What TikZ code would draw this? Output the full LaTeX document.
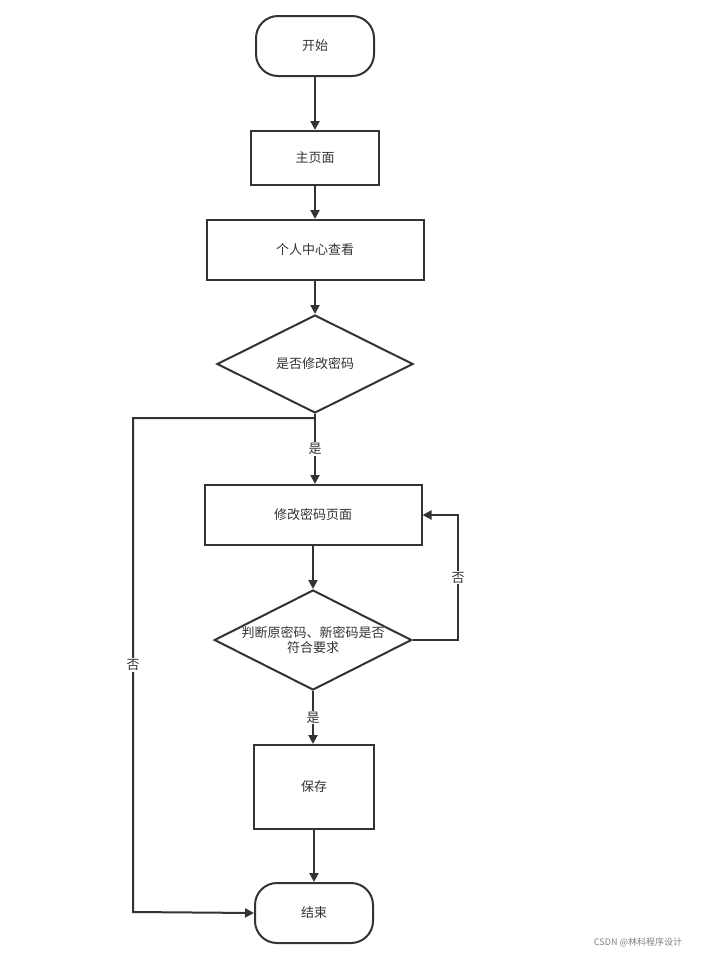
\documentclass[tikz,border=0pt]{standalone}
\usepackage{fontspec}
\setmainfont{Noto Sans CJK SC}
\usetikzlibrary{shapes.geometric,arrows.meta}
\definecolor{ln}{HTML}{333333}
\begin{document}
\begin{tikzpicture}[x=1pt,y=-1pt,
  every node/.style={font=\fontsize{13}{16}\selectfont,text=ln},
  box/.style={draw=ln,line width=2pt,minimum width=#1,inner sep=0pt},
  term/.style={draw=ln,line width=2pt,rounded corners=22pt,minimum width=118pt,minimum height=60pt},
  dia/.style={draw=ln,line width=2pt,diamond,aspect=2,inner sep=0pt,minimum width=196pt,minimum height=98pt},
  arr/.style={draw=ln,line width=2pt,-{Triangle[length=9pt,width=9pt]}},
  lab/.style={fill=white,inner sep=1pt}]
\useasboundingbox (0,0) rectangle (709,954);
\node[term] (s) at (315,46) {开始};
\node[box=128pt,minimum height=54pt] (m) at (315,158) {主页面};
\node[box=217pt,minimum height=60pt] (p) at (315,250) {个人中心查看};
\node[dia] (d1) at (315,364) {是否修改密码};
\node[box=217pt,minimum height=60pt] (c) at (313,515) {修改密码页面};
\node[dia,minimum height=100pt] (d2) at (313,640) {\shortstack{判断原密码、新密码是否\\符合要求}};
\node[box=120pt,minimum height=84pt] (b) at (314,787) {保存};
\node[term] (e) at (314,913) {结束};
\draw[arr] (s) -- (m);
\draw[arr] (m) -- (p);
\draw[arr] (p) -- (d1);
\draw[arr] (d1.south) -- node[lab] (y1) {是} (c.north -| d1.south);
\draw[arr] (c.south -| d2.north) -- (d2.north);
\draw[arr] (d2.south) -- node[lab] (y2) {是} (b.north -| d2.south);
\draw[arr] (b) -- (e);
\coordinate (l1) at (133,418);
\coordinate (l2) at (133,912);
\draw[arr] (315,418) -- (l1) -- node[lab] (n1) {否} (l2) -- (e.west);
\coordinate (r1) at (458,640);
\coordinate (r2) at (458,515);
\draw[arr] (d2.east) -- (r1) -- node[lab] (n2) {否} (r2) -- (c.east);
\node[font=\fontsize{9}{10}\selectfont,text=gray] (w) at (638,942) {CSDN @林科程序设计};
\end{tikzpicture}
\end{document}
